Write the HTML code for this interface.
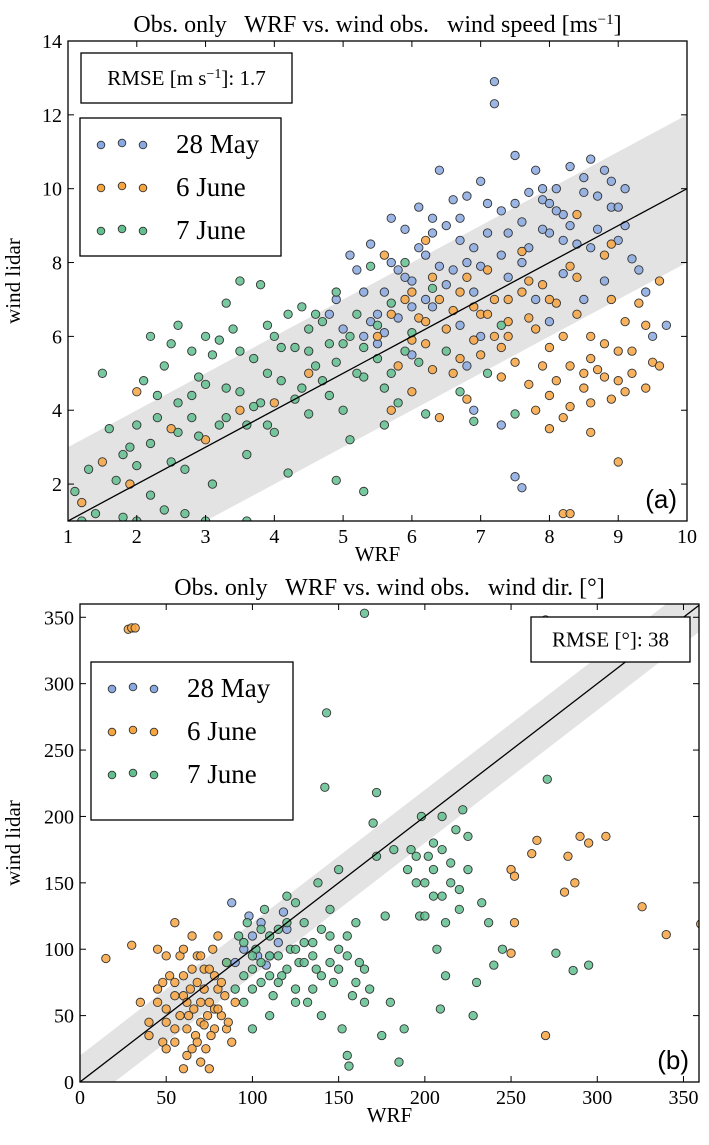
<!DOCTYPE html>
<html><head><meta charset="utf-8"><style>
html,body{margin:0;padding:0;background:#fff;width:709px;height:1145px;overflow:hidden}
svg{display:block;font-family:"Liberation Serif",serif}
</style></head><body>
<svg id="chart" width="709" height="1145" viewBox="0 0 709 1145"></svg>
<script>
// ---- Panel (a) data: wind speed ----
const aBlue=[5.2,7.8,5.4,8.5,5.6,7.2,5.8,6.5,5.9,8.9,6.0,7.5,6.1,9.5,6.2,8.2,6.3,6.8,6.4,10.5,6.5,9.0,6.6,7.8,6.7,8.6,6.8,9.8,6.9,7.2,7.0,10.2,7.1,8.8,7.2,12.9,7.2,12.3,7.3,9.4,7.4,7.6,7.5,10.9,7.6,9.1,7.7,8.4,7.8,10.5,7.9,9.7,8.0,8.8,8.1,10.0,8.2,9.3,8.3,10.6,8.4,8.5,8.5,9.9,8.6,10.8,8.7,8.9,8.8,7.5,8.9,9.5,9.0,8.6,9.1,10.0,9.3,7.8,9.5,6.0,9.7,6.3,9.2,8.1,7.5,2.2,7.6,1.9,6.9,4.0,5.5,5.8,5.0,6.2,4.9,7.0,5.3,6.0,6.8,5.2,7.3,3.6,5.7,9.2,6.6,9.7,8.0,6.4,7.0,6.0,6.0,5.5,8.5,7.0,9.4,7.2,4.8,6.6,5.1,8.2,6.3,9.2,7.8,7.0,8.2,7.7,5.6,6.1,6.7,6.3,
5.3,7.2,5.5,6.6,5.7,8.0,5.9,7.6,6.1,8.4,6.3,8.8,6.5,7.4,6.7,9.2,6.9,8.4,7.1,9.6,7.3,8.2,7.5,9.6,7.7,9.9,7.9,8.9,8.1,9.4,8.3,9.0,8.5,10.3,8.7,9.8,8.9,10.2,9.1,9.0,6.2,7.0,6.8,8.0,7.4,8.8,8.0,9.6,8.6,8.4,5.8,7.8,6.4,7.9,7.0,7.9,7.6,8.0,8.2,8.6,9.0,9.5,8.8,10.5,7.9,10.0,6.0,6.8,5.4,6.4];
const aOrange=[5.5,6.0,5.6,8.2,5.8,5.2,5.9,7.0,6.0,4.5,6.1,6.5,6.2,5.8,6.3,7.6,6.4,3.8,6.5,6.2,6.6,5.0,6.7,7.2,6.8,4.3,6.9,6.8,7.0,5.5,7.1,7.8,7.2,6.0,7.3,4.9,7.4,7.0,7.5,5.3,7.6,8.3,7.7,6.5,7.8,4.0,7.9,7.4,8.0,5.7,8.1,6.9,8.2,3.8,8.3,5.2,8.4,7.6,8.5,4.6,8.6,6.0,8.7,5.1,8.8,8.2,8.9,4.3,9.0,5.6,9.1,6.4,9.2,5.0,9.3,6.9,9.5,5.3,9.0,2.6,8.2,1.2,8.3,1.2,8.0,3.5,7.7,4.7,8.6,3.4,9.4,6.3,9.6,7.5,8.9,8.5,8.4,9.3,4.5,5.0,4.0,4.2,3.5,4.0,2.0,4.5,1.9,2.0,1.5,2.6,2.5,3.5,3.0,3.2,1.2,1.5,6.2,8.6,5.7,4.0,6.9,5.9,7.4,6.4,8.1,4.8,
5.7,6.6,6.0,7.2,6.2,6.4,6.4,7.0,6.6,6.7,6.8,7.6,7.0,6.6,7.2,7.0,7.4,6.0,7.6,7.2,7.8,6.2,8.0,7.0,8.2,6.0,8.4,6.6,8.6,5.4,8.8,5.8,9.0,4.8,9.2,5.6,9.4,4.6,8.0,4.4,8.5,5.0,8.8,4.9,9.1,4.5,8.3,4.1,7.9,5.2,7.3,5.7,6.7,5.4,6.3,5.1,6.0,5.9,7.1,6.6,7.7,7.5,8.3,7.9,8.9,7.0,9.6,5.2,8.6,4.2];
const aGreen=[1.1,1.8,1.3,2.4,1.4,1.2,1.6,3.5,1.7,2.1,1.8,1.1,1.9,3.0,2.0,2.5,2.1,4.8,2.2,1.7,2.3,3.8,2.4,5.2,2.5,2.6,2.6,4.2,2.7,1.2,2.8,5.6,2.9,3.3,3.0,4.7,3.1,2.0,3.2,5.9,3.3,3.8,3.4,6.2,3.5,4.5,3.5,7.5,3.6,2.8,3.7,5.4,3.8,7.4,3.9,3.6,4.0,6.0,4.1,4.8,4.2,2.3,4.3,5.7,4.4,6.8,4.5,3.9,4.6,5.2,4.7,6.4,4.8,4.4,4.9,7.2,5.0,5.8,5.1,3.2,5.2,6.6,5.3,4.9,5.4,7.9,5.5,5.4,5.6,3.6,5.7,6.9,5.8,4.2,5.9,8.0,6.0,6.1,6.2,3.9,6.3,7.3,6.5,5.6,6.7,4.5,6.9,3.7,7.1,5.0,7.3,6.3,7.5,3.9,4.9,2.1,5.3,1.8,2.0,1.0,3.0,1.0,1.5,5.0,2.2,6.0,3.3,6.9,4.2,6.6,4.5,6.2,5.0,4.0,3.8,4.2,2.8,3.8,2.6,6.3,1.2,1.0,2.4,1.3,3.6,1.0,
2.0,3.6,2.3,4.4,2.6,3.4,2.9,4.9,3.1,5.5,3.3,4.6,3.5,5.6,3.7,4.1,3.9,5.0,4.1,5.7,4.3,4.3,4.5,5.6,4.7,4.8,4.9,5.3,5.1,6.0,5.3,5.7,5.5,6.3,5.7,5.0,5.9,5.6,6.1,5.3,2.8,4.4,3.2,3.6,3.6,3.6,4.0,3.4,4.4,4.6,4.8,5.8,5.2,5.0,5.6,4.6,2.5,5.8,3.0,6.0,3.9,6.3,4.6,6.6,1.8,2.8,2.2,3.1,2.7,2.4];
const aXTicks=[1,2,3,4,5,6,7,8,9,10];
const aYTicks=[2,4,6,8,10,12,14];
// ---- Panel (b) data: wind direction ----
const bBlue=[90,90,95,100,100,110,105,120,110,95,115,105,120,115,98,125,88,135,108,88,118,128,103,95];
const bOrange=[15,93,30,103,28,341,30,342,32,342,35,60,40,45,45,70,48,30,50,55,52,80,55,40,58,95,60,65,62,20,63,50,65,110,67,35,68,75,70,45,72,85,73,25,75,60,77,100,78,40,80,70,82,50,85,90,88,30,90,60,60,10,70,15,75,10,50,25,40,35,45,100,55,120,65,85,72,43,80,110,250,97,250,160,252,155,262,172,265,182,270,35,270,348,281,143,283,170,287,150,290,185,295,180,305,185,326,132,340,111,360,119,252,120,55,75,62,60,68,95,78,55,85,40,
45,60,50,45,55,65,58,50,60,80,62,40,64,70,66,55,68,30,70,60,72,70,74,50,76,35,78,80,80,55,82,75,84,65,86,45,55,30,65,25,70,95,60,100,50,95,75,85,48,75];
const bGreen=[85,90,90,70,92,110,95,60,97,120,100,85,102,100,105,75,107,130,110,95,112,65,115,115,117,80,120,140,122,100,125,70,127,90,130,120,132,60,135,105,137,85,140,50,142,222,143,278,145,130,147,75,150,100,152,40,155,20,156,12,158,65,160,120,162,90,165,60,168,70,170,195,172,218,172,170,175,35,177,125,180,60,182,175,185,15,188,40,190,160,192,175,195,150,197,125,198,200,200,125,202,170,205,180,207,100,209,55,210,140,212,80,215,165,218,190,220,130,222,205,225,160,228,50,230,75,233,135,237,120,240,88,245,100,271,228,276,97,286,84,295,88,165,353,210,200,100,40,110,50,125,135,138,150,150,160,95,105,105,115,
95,80,100,95,105,90,110,80,115,95,120,85,125,100,130,90,135,95,140,80,145,110,150,85,155,95,160,75,100,70,110,110,120,120,130,105,140,115,115,75,125,60,135,70,145,90,155,110,165,85,200,150,205,160,210,175,215,150,220,145,195,170,212,120,225,185,205,140];
const bXTicks=[0,50,100,150,200,250,300,350];
const bYTicks=[0,50,100,150,200,250,300,350];

const NS="http://www.w3.org/2000/svg";
const svg=document.getElementById('chart');
function el(tag,attrs,parent,text){const e=document.createElementNS(NS,tag);for(const k in attrs)e.setAttribute(k,attrs[k]);if(text!==undefined)e.textContent=text;(parent||svg).appendChild(e);return e;}
const COL={blue:'#8aa8e0',orange:'#f7a541',green:'#62c08f'};

function panel(cfg){
  const g=el('g',{});
  
  
  const sx=v=>cfg.L+(v-cfg.x0)/(cfg.x1-cfg.x0)*(cfg.R-cfg.L);
  const sy=v=>cfg.B-(v-cfg.y0)/(cfg.y1-cfg.y0)*(cfg.B-cfg.T);
  const cid='clip'+cfg.name;
  const cp=el('clipPath',{id:cid},g);el('rect',{x:cfg.L,y:cfg.T,width:cfg.R-cfg.L,height:cfg.B-cfg.T},cp);
  const pg=el('g',{'clip-path':'url(#'+cid+')'},g);
  const r=cfg.rmse, lo=cfg.x0-50, hi=cfg.x1+50;
  const band=el('polygon',{points:`${sx(lo)},${sy(lo+r)} ${sx(hi)},${sy(hi+r)} ${sx(hi)},${sy(hi-r)} ${sx(lo)},${sy(lo-r)}`,fill:'#e3e3e3'},pg);
  
  
  [['blue',cfg.blue],['orange',cfg.orange],['green',cfg.green]].forEach(([c,arr])=>{
    for(let i=0;i<arr.length;i+=2){
      const p=el('circle',{cx:sx(arr[i]),cy:sy(arr[i+1]),r:4.2,fill:COL[c],'fill-opacity':0.85,stroke:'#333','stroke-width':0.9},pg);
      
      
    }
  });
  const ln=el('line',{x1:sx(lo),y1:sy(lo),x2:sx(hi),y2:sy(hi),stroke:'#000','stroke-width':1.3},pg);
  
  
  el('rect',{x:cfg.L,y:cfg.T,width:cfg.R-cfg.L,height:cfg.B-cfg.T,fill:'none',stroke:'#000','stroke-width':1.3},g);
  cfg.xt.forEach(v=>{const x=sx(v);
    el('line',{x1:x,y1:cfg.B,x2:x,y2:cfg.B-6,stroke:'#000'},g);el('line',{x1:x,y1:cfg.T,x2:x,y2:cfg.T+6,stroke:'#000'},g);
    const t=el('text',{x:x,y:cfg.B+22,'font-size':20,'text-anchor':'middle'},g,v);
    
    });
  cfg.yt.forEach(v=>{const y=sy(v);
    el('line',{x1:cfg.L,y1:y,x2:cfg.L+6,y2:y,stroke:'#000'},g);el('line',{x1:cfg.R,y1:y,x2:cfg.R-6,y2:y,stroke:'#000'},g);
    const t=el('text',{x:cfg.L-6,y:y+7,'font-size':20,'text-anchor':'end'},g,v);
    
    });
  const xt=el('text',{x:(cfg.L+cfg.R)/2,y:cfg.B+40,'font-size':21,'text-anchor':'middle'},g,'WRF');
  
  
  const yt=el('text',{x:0,y:0,'font-size':21,'text-anchor':'middle',transform:`translate(${cfg.ylx},${(cfg.T+cfg.B)/2}) rotate(-90)`},g,'wind lidar');
  
  
  const ti=el('text',{x:(cfg.L+cfg.R)/2,y:cfg.T-9,'font-size':24,'text-anchor':'middle',style:'white-space:pre'},g);
  ti.innerHTML=cfg.title;
  
  
  const rb=el('g',{},g);
  
  
  el('rect',{x:cfg.rm[0],y:cfg.rm[1],width:cfg.rm[2],height:cfg.rm[3],fill:'#fff',stroke:'#000','stroke-width':1.3},rb);
  const rt=el('text',{x:cfg.rm[0]+cfg.rm[2]/2,y:cfg.rm[1]+cfg.rm[3]/2+7,'font-size':21,'text-anchor':'middle'},rb);rt.innerHTML=cfg.rmText;
  const lg=el('g',{},g);
  
  
  const [lx,ly,lw,lh]=cfg.lg;
  el('rect',{x:lx,y:ly,width:lw,height:lh,fill:'#fff',stroke:'#000','stroke-width':1.3},lg);
  [['blue','28 May'],['orange','6 June'],['green','7 June']].forEach(([c,lab],i)=>{
    const yy=ly+25+i*43;
    const e=el('g',{},lg);
    
    
    [[21,2],[42,0],[63,2]].forEach(([dx,dy])=>el('circle',{cx:lx+dx,cy:yy+dy,r:3.8,fill:COL[c],stroke:'#333','stroke-width':0.9},e));
    el('text',{x:lx+96,y:yy+10,'font-size':27},e,lab);
  });
  const pl=el('text',{x:cfg.R-10,y:cfg.B-13,'font-size':26,'text-anchor':'end','font-family':'Liberation Sans, sans-serif'},g,cfg.letter);
  
  
}
panel({name:'panel-a',L:68,R:687,T:41,B:521,x0:1,x1:10,y0:1,y1:14,blue:aBlue,orange:aOrange,green:aGreen,xt:aXTicks,yt:aYTicks,rmse:2,ylx:20,
  title:'Obs. only   WRF vs. wind obs.   wind speed [ms<tspan baseline-shift="super" font-size="15">−1</tspan>]',
  rm:[81,53,211,50],rmText:'RMSE [m s<tspan baseline-shift="super" font-size="14">−1</tspan>]: 1.7',lg:[80,118,201,138],letter:'(a)'});
panel({name:'panel-b',L:80,R:699,T:604,B:1082,x0:0,x1:359,y0:0,y1:360,blue:bBlue,orange:bOrange,green:bGreen,xt:bXTicks,yt:bYTicks,rmse:20,ylx:20,
  title:'Obs. only   WRF vs. wind obs.   wind dir. [°]',
  rm:[531,617,159,45],rmText:'RMSE [°]: 38',lg:[91,662,202,158],letter:'(b)'});
</script>
</body></html>
